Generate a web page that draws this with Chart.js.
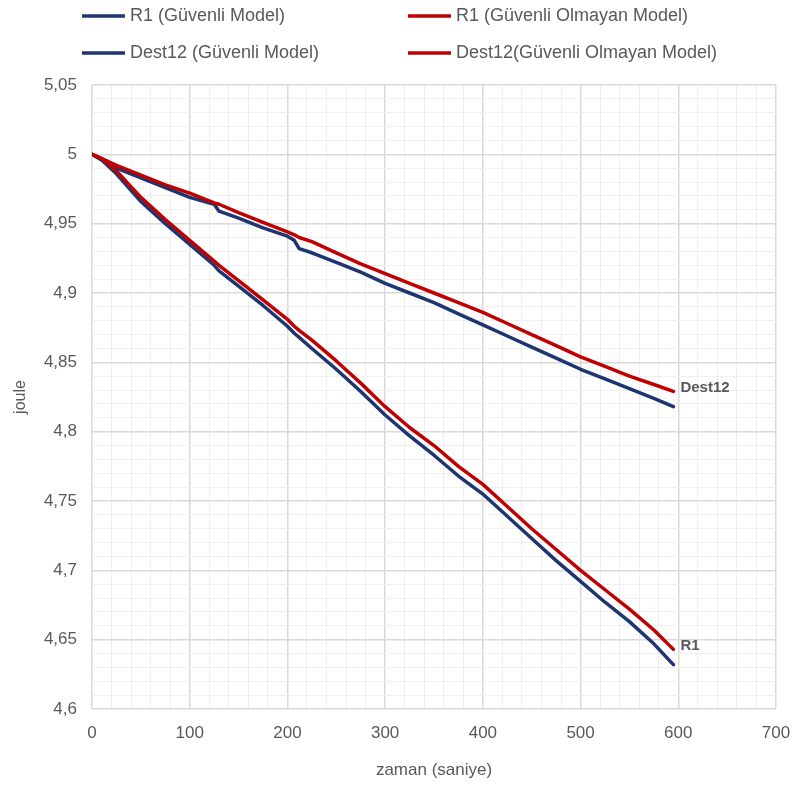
<!DOCTYPE html>
<html>
<head>
<meta charset="utf-8">
<script src="https://cdn.jsdelivr.net/npm/chart.js@4/dist/chart.umd.min.js"></script>
<style>
  html, body { margin: 0; padding: 0; background: #ffffff; }
  #wrap { width: 795px; height: 785px; position: relative; }
</style>
</head>
<body>
<div id="wrap"><canvas id="c" width="795" height="785"></canvas></div>
<script>
// Sampling instants (seconds)
const seconds = [0, 10, 25, 50, 75, 100, 125, 130, 150, 175, 200, 207, 212, 225, 250, 275, 300,
  325, 350, 375, 400, 425, 450, 475, 500, 525, 550, 575, 595];

// Remaining energy (joule) per node and model
const r1Safe = [5.000, 4.996, 4.986, 4.966, 4.950, 4.935, 4.920, 4.916, 4.905, 4.891, 4.876, 4.871, 4.868,
  4.860, 4.845, 4.829, 4.812, 4.797, 4.783, 4.768, 4.755, 4.739, 4.723, 4.707, 4.692, 4.677, 4.663, 4.647, 4.632];
const r1Unsafe = [5.000, 4.997, 4.988, 4.969, 4.953, 4.938, 4.923, 4.920, 4.909, 4.895, 4.881, 4.876, 4.873,
  4.866, 4.851, 4.835, 4.818, 4.803, 4.790, 4.775, 4.762, 4.746, 4.730, 4.715, 4.700, 4.686, 4.672, 4.657, 4.643];
const dest12Safe = [5.000, 4.996, 4.990, 4.983, 4.976, 4.969, 4.964, 4.959, 4.954, 4.947, 4.941, 4.938, 4.932,
  4.929, 4.922, 4.915, 4.907, 4.900, 4.893, 4.885, 4.877, 4.869, 4.861, 4.853, 4.845, 4.838, 4.831, 4.824, 4.818];
const dest12Unsafe = [5.000, 4.997, 4.992, 4.985, 4.978, 4.972, 4.965, 4.964, 4.958, 4.951, 4.944, 4.942, 4.940,
  4.937, 4.929, 4.921, 4.914, 4.907, 4.900, 4.893, 4.886, 4.878, 4.870, 4.862, 4.854, 4.847, 4.840, 4.834, 4.829];

const seriesNames = ['R1 (Güvenli Model)', 'R1 (Güvenli Olmayan Model)', 'Dest12 (Güvenli Model)', 'Dest12(Güvenli Olmayan Model)'];
const endLabels = ['', 'R1', '', 'Dest12'];

const NAVY = '#1D3570';
const RED = '#C00000';
const TEXT = '#595959';
const FONT = "'Liberation Sans', Arial, sans-serif";

function pts(ys) { return seconds.map((x, i) => ({ x: x, y: ys[i] })); }

function ds(label, ys, color, order, endLabel) {
  return {
    label: label, data: pts(ys), borderColor: color, backgroundColor: color,
    borderWidth: 3.5, pointRadius: 0, tension: 0, order: order, endLabel: endLabel,
    borderCapStyle: 'round', borderJoinStyle: 'round'
  };
}

// Legend laid out in two rows / two columns above the plot
const gridLegend = {
  id: 'gridLegend',
  afterDraw(chart) {
    const ctx = chart.ctx;
    const cols = [82, 408];
    const rows = [16, 53];
    ctx.save();
    ctx.font = '18px ' + FONT;
    ctx.fillStyle = TEXT;
    ctx.textBaseline = 'middle';
    chart.data.datasets.forEach((d, k) => {
      const x = cols[k % 2], y = rows[Math.floor(k / 2)];
      ctx.strokeStyle = d.borderColor;
      ctx.lineWidth = 3.5;
      ctx.beginPath();
      ctx.moveTo(x, y); ctx.lineTo(x + 43, y);
      ctx.stroke();
      ctx.fillText(d.label, x + 48, y);
    });
    ctx.restore();
  }
};

// Series names written beside the last point
const lineEndLabels = {
  id: 'lineEndLabels',
  afterDatasetsDraw(chart) {
    const ctx = chart.ctx;
    ctx.save();
    ctx.font = 'bold 15px ' + FONT;
    ctx.fillStyle = TEXT;
    ctx.textBaseline = 'middle';
    chart.data.datasets.forEach((d, i) => {
      if (!d.endLabel) return;
      const meta = chart.getDatasetMeta(i);
      const last = meta.data[meta.data.length - 1];
      ctx.fillText(d.endLabel, last.x + 7, last.y - 4);
    });
    ctx.restore();
  }
};

const isMajorX = v => Math.round(v) % 100 === 0;
const isMajorY = v => Math.round(v * 100) % 5 === 0;

new Chart(document.getElementById('c'), {
  type: 'line',
  data: {
    datasets: [
      ds(seriesNames[0], r1Safe, NAVY, 2, endLabels[0]),
      ds(seriesNames[1], r1Unsafe, RED, 1, endLabels[1]),
      ds(seriesNames[2], dest12Safe, NAVY, 2, endLabels[2]),
      ds(seriesNames[3], dest12Unsafe, RED, 1, endLabels[3])
    ]
  },
  options: {
    responsive: false,
    animation: false,
    layout: { padding: { left: 0, right: 19, top: 85, bottom: 0 } },
    plugins: { legend: { display: false }, tooltip: { enabled: false } },
    scales: {
      x: {
        type: 'linear', min: 0, max: 700,
        afterFit(s) { s.height = 76; s.paddingLeft = 0; s.paddingRight = 0; },
        ticks: {
          stepSize: 20, autoSkip: false, maxRotation: 0, padding: 14,
          color: TEXT, font: { family: FONT, size: 17 },
          callback: v => isMajorX(v) ? String(Math.round(v)) : ''
        },
        grid: {
          drawTicks: false,
          color: c => isMajorX(c.tick.value) ? '#D9D9D9' : '#EFEFEF',
          lineWidth: c => isMajorX(c.tick.value) ? 1.5 : 1
        },
        border: { display: false },
        title: { display: true, text: 'zaman (saniye)', color: TEXT, font: { family: FONT, size: 17 }, padding: { top: 0, bottom: 4 } }
      },
      y: {
        type: 'linear', min: 4.6, max: 5.05,
        afterFit(s) { s.width = 92; s.paddingTop = 0; s.paddingBottom = 0; },
        ticks: {
          stepSize: 0.01, autoSkip: false, padding: 15,
          color: TEXT, font: { family: FONT, size: 17 },
          callback: v => isMajorY(v) ? String(Math.round(v * 100) / 100).replace('.', ',') : ''
        },
        grid: {
          drawTicks: false,
          color: c => isMajorY(c.tick.value) ? '#D9D9D9' : '#EFEFEF',
          lineWidth: c => isMajorY(c.tick.value) ? 1.5 : 1
        },
        border: { display: false },
        title: { display: true, text: 'joule', color: TEXT, font: { family: FONT, size: 16 }, padding: { top: 11, bottom: 0 } }
      }
    }
  },
  plugins: [gridLegend, lineEndLabels]
});
</script>
</body>
</html>
